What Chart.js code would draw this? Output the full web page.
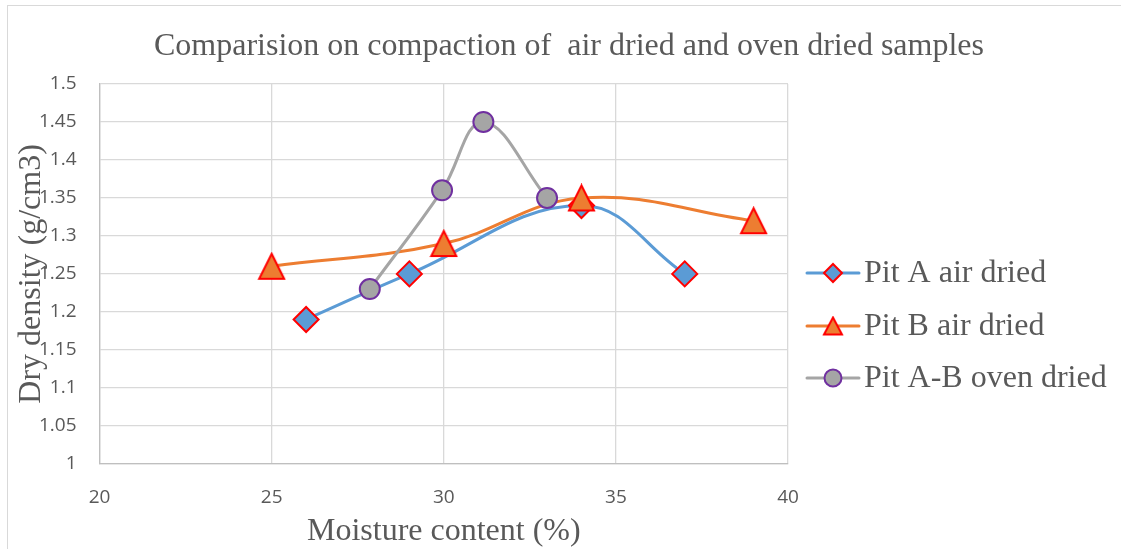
<!DOCTYPE html>
<html>
<head>
<meta charset="utf-8">
<script src="https://cdn.jsdelivr.net/npm/chart.js@4.4.0/dist/chart.umd.min.js"></script>
<style>
  html, body { margin: 0; padding: 0; background: #fff; }
  #wrap { position: relative; width: 1121px; height: 549px; overflow: hidden; }
  #marco { position: absolute; left: 7px; top: 5px; width: 1200px; height: 600px;
           border-left: 1px solid #d9d9d9; border-top: 1px solid #d9d9d9; }
  canvas { position: absolute; left: 0; top: 0; }
</style>
</head>
<body>
<div id="wrap">
  <div id="marco"></div>
  <canvas id="graficaCompactacion" width="1121" height="549"></canvas>
</div>
<script>
// humedad (%) y densidad seca (g/cm3) de cada serie
const humedadPitA = [26, 29, 34, 37];
const densidadPitA = [1.19, 1.25, 1.34, 1.25];
const humedadPitB = [25, 30, 34, 39];
const densidadPitB = [1.26, 1.29, 1.35, 1.32];
const humedadPitAB = [27.85, 29.95, 31.15, 33];
const densidadPitAB = [1.23, 1.36, 1.45, 1.35];

const nombresSeries = ['Pit A air dried', 'Pit B air dried', 'Pit A-B oven dried'];
const tituloGrafica = 'Comparision on compaction of  air dried and oven dried samples';

const ticksX = [20, 25, 30, 35, 40];
const ticksY = [1, 1.05, 1.1, 1.15, 1.2, 1.25, 1.3, 1.35, 1.4, 1.45, 1.5];
const etiquetasY = ['1', '1.05', '1.1', '1.15', '1.2', '1.25', '1.3', '1.35', '1.4', '1.45', '1.5'];

const GRIS_TEXTO = '#595959';
const SERIF = '"Liberation Serif", "Times New Roman", serif';
const fuenteTicks = { family: '"Open Sans", sans-serif', size: 19 };

const puntos = (xs, ys) => xs.map((x, i) => ({ x: x, y: ys[i] }));

// triangulo con la caja centrada en el punto (el de Chart.js se centra en el baricentro)
function crearTriangulo(ancho, alto, relleno, borde) {
  const c = document.createElement('canvas');
  c.width = ancho + 4;
  c.height = alto + 4;
  const g = c.getContext('2d');
  g.beginPath();
  g.moveTo(c.width / 2, 2);
  g.lineTo(c.width - 2, c.height - 2);
  g.lineTo(2, c.height - 2);
  g.closePath();
  g.fillStyle = relleno;
  g.fill();
  g.lineWidth = 2;
  g.lineJoin = 'miter';
  g.strokeStyle = borde;
  g.stroke();
  return c;
}
const trianguloGrafica = crearTriangulo(25, 25, '#ed7d31', '#ff0000');
const trianguloLeyenda = crearTriangulo(18, 17, '#ed7d31', '#ff0000');

// marcadores de la leyenda (mas pequeños que los de la grafica)
const marcadorLeyenda = [
  { pointStyle: 'rectRot', radius: 9 },
  { pointStyle: trianguloLeyenda, radius: 10 },
  { pointStyle: 'circle', radius: 8.5 }
];

// titulo y leyenda lateral dibujados a mano
const decoracion = {
  id: 'decoracion',
  afterDraw(chart) {
    const ctx = chart.ctx;
    ctx.save();
    ctx.fillStyle = GRIS_TEXTO;
    ctx.font = '32px ' + SERIF;
    ctx.textAlign = 'center';
    ctx.textBaseline = 'middle';
    ctx.fillText(tituloGrafica, 569, 47);

    const filas = [273, 326, 378];
    chart.data.datasets.forEach((ds, i) => {
      const y = filas[i];
      ctx.lineCap = 'round';
      ctx.strokeStyle = ds.borderColor;
      ctx.lineWidth = 3;
      ctx.beginPath();
      ctx.moveTo(807, y);
      ctx.lineTo(859, y);
      ctx.stroke();
      ctx.fillStyle = ds.pointBackgroundColor;
      ctx.strokeStyle = ds.pointBorderColor;
      ctx.lineWidth = 2;
      Chart.helpers.drawPoint(ctx, {
        pointStyle: marcadorLeyenda[i].pointStyle, radius: marcadorLeyenda[i].radius,
        borderWidth: 2, rotation: 0
      }, 833, y);
      ctx.fillStyle = GRIS_TEXTO;
      ctx.font = '32px ' + SERIF;
      ctx.textAlign = 'left';
      ctx.fillText(ds.label, 864, y + 1);
    });
    ctx.restore();
  }
};

const ctx = document.getElementById('graficaCompactacion').getContext('2d');
new Chart(ctx, {
  type: 'line',
  data: {
    datasets: [
      {
        label: nombresSeries[0],
        data: puntos(humedadPitA, densidadPitA),
        borderColor: '#5b9bd5',
        borderWidth: 3,
        tension: 0.4,
        pointStyle: 'rectRot',
        pointRadius: 12.5,
        pointHoverRadius: 12.5,
        pointBackgroundColor: '#5b9bd5',
        pointBorderColor: '#ff0000',
        pointBorderWidth: 2,
        order: 3
      },
      {
        label: nombresSeries[1],
        data: puntos(humedadPitB, densidadPitB),
        borderColor: '#ed7d31',
        borderWidth: 3,
        tension: 0.4,
        pointStyle: trianguloGrafica,
        pointRadius: 14,
        pointHoverRadius: 14,
        pointBackgroundColor: '#ed7d31',
        pointBorderColor: '#ff0000',
        pointBorderWidth: 2,
        order: 2
      },
      {
        label: nombresSeries[2],
        data: puntos(humedadPitAB, densidadPitAB),
        borderColor: '#a5a5a5',
        borderWidth: 3,
        tension: 0.4,
        pointStyle: 'circle',
        pointRadius: 10,
        pointHoverRadius: 10,
        pointBackgroundColor: '#a5a5a5',
        pointBorderColor: '#7030a0',
        pointBorderWidth: 2,
        order: 1
      }
    ]
  },
  options: {
    responsive: false,
    animation: false,
    devicePixelRatio: 1,
    layout: { padding: { left: 13, right: 333, top: 84, bottom: 0 } },
    plugins: {
      legend: { display: false },
      tooltip: { enabled: false },
      title: { display: false }
    },
    scales: {
      x: {
        type: 'linear',
        min: 20,
        max: 40,
        afterBuildTicks: (escala) => { escala.ticks = ticksX.map(v => ({ value: v })); },
        ticks: { color: GRIS_TEXTO, font: fuenteTicks, padding: 22, callback: (v) => String(v) },
        grid: { color: '#d9d9d9', drawTicks: false, lineWidth: 1.3 },
        border: { color: '#bfbfbf', width: 1.3 },
        title: {
          display: true,
          text: 'Moisture content (%)',
          color: GRIS_TEXTO,
          font: { family: SERIF, size: 32 },
          padding: { top: -18, bottom: -2 }
        }
      },
      y: {
        type: 'linear',
        min: 1,
        max: 1.5,
        afterBuildTicks: (escala) => { escala.ticks = ticksY.map(v => ({ value: v })); },
        ticks: {
          color: GRIS_TEXTO, font: fuenteTicks, padding: 23,
          callback: (v, i) => etiquetasY[i]
        },
        grid: { color: '#d9d9d9', drawTicks: false, lineWidth: 1.3 },
        border: { color: '#bfbfbf', width: 1.3 },
        title: {
          display: true,
          text: 'Dry density (g/cm3)',
          color: GRIS_TEXTO,
          font: { family: SERIF, size: 32 },
          padding: { top: -1, bottom: -34.4 }
        }
      }
    }
  },
  plugins: [decoracion]
});
</script>
</body>
</html>
